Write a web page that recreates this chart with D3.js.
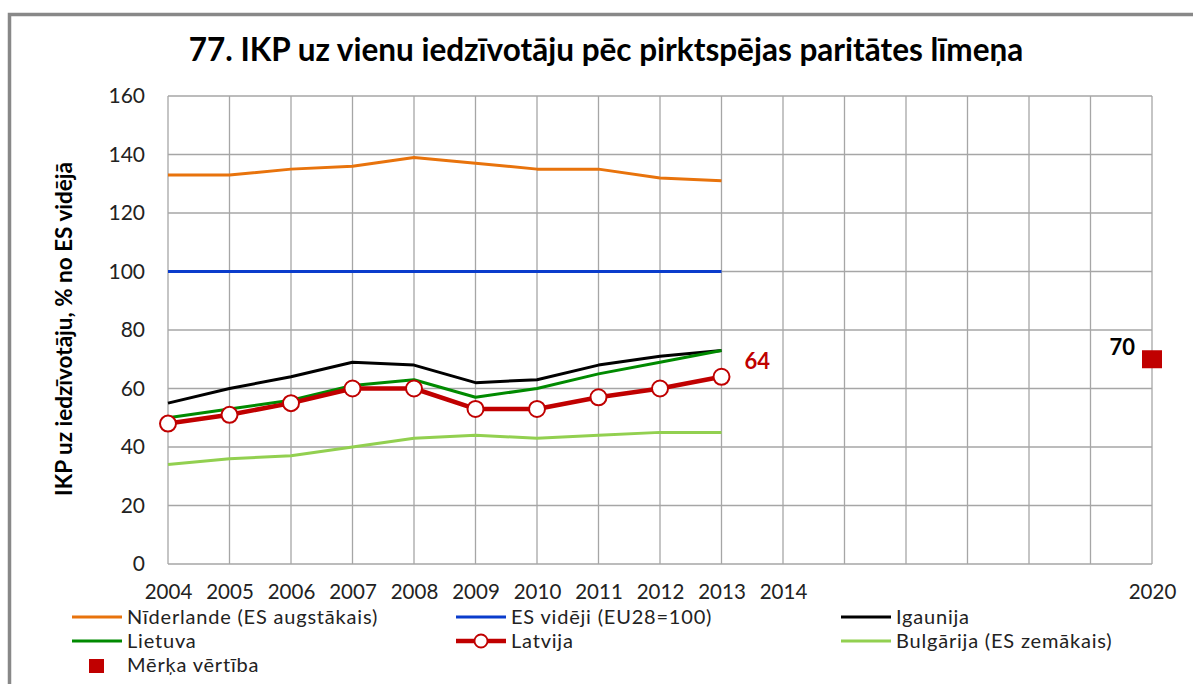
<!doctype html>
<html>
<head>
    <meta charset="utf-8">
    <title>IKP uz vienu iedzīvotāju</title>
    <script src="https://d3js.org/d3.v7.min.js"></script>
    <style>
        body { margin: 0; background: #fff; }
        svg { display: block; font-family: Lato, "Open Sans", sans-serif; }
    </style>
</head>
<body>
<svg width="1193" height="684"></svg>
<script>
    // data
    let years = [2004, 2005, 2006, 2007, 2008, 2009, 2010, 2011, 2012, 2013];
    let gridYears = d3.range(2004, 2021);
    let tickYears = [2004, 2005, 2006, 2007, 2008, 2009, 2010, 2011, 2012, 2013, 2014, 2020];
    let yTicks = [0, 20, 40, 60, 80, 100, 120, 140, 160];

    let niderlande = [133, 133, 135, 136, 139, 137, 135, 135, 132, 131];
    let esVideji   = [100, 100, 100, 100, 100, 100, 100, 100, 100, 100];
    let igaunija   = [55, 60, 64, 69, 68, 62, 63, 68, 71, 73];
    let lietuva    = [50, 53, 56, 61, 63, 57, 60, 65, 69, 73];
    let latvija    = [48, 51, 55, 60, 60, 53, 53, 57, 60, 64];
    let bulgarija  = [34, 36, 37, 40, 43, 44, 43, 44, 45, 45];
    let targetYear = 2020;
    let targetValue = 70;

    let series = [
        { name: "Nīderlande (ES augstākais)", values: niderlande, color: "#e8730c", width: 3 },
        { name: "ES vidēji (EU28=100)", values: esVideji, color: "#0a3ccc", width: 3 },
        { name: "Igaunija", values: igaunija, color: "#000000", width: 3 },
        { name: "Lietuva", values: lietuva, color: "#008a00", width: 3 },
        { name: "Latvija", values: latvija, color: "#c00000", width: 4.5, marker: true },
        { name: "Bulgārija (ES zemākais)", values: bulgarija, color: "#92d050", width: 3 }
    ];

    let svg = d3.select("svg");

    // outer frame
    svg.append("rect")
        .attr("x", 9.5).attr("y", 14.5)
        .attr("width", 1200).attr("height", 700)
        .attr("fill", "none")
        .attr("stroke", "#888")
        .attr("stroke-width", 3.5);

    let x = d3.scaleLinear().domain([2004, 2020]).range([168, 1152]);
    let y = d3.scaleLinear().domain([0, 160]).range([564, 96]);

    // grid
    let grid = svg.append("g").attr("stroke", "#a6a6a6").attr("stroke-width", 1.3);
    grid.selectAll("line.v").data(gridYears).enter().append("line")
        .attr("x1", d => x(d)).attr("x2", d => x(d))
        .attr("y1", y(0)).attr("y2", y(160));
    grid.selectAll("line.h").data(yTicks).enter().append("line")
        .attr("x1", x(2004)).attr("x2", x(2020))
        .attr("y1", d => y(d)).attr("y2", d => y(d));

    // axes labels
    let yAxis = d3.axisLeft(y).tickValues(yTicks).tickSize(0).tickPadding(23);
    svg.append("g").attr("transform", "translate(" + x(2004) + ",0)").call(yAxis)
        .call(g => g.select(".domain").remove())
        .selectAll("text").attr("font-size", 21).attr("fill", "#222")
        .attr("font-family", "Lato");

    let xAxis = d3.axisBottom(x).tickValues(tickYears).tickFormat(d3.format("d")).tickSize(0).tickPadding(20);
    svg.append("g").attr("transform", "translate(0," + y(0) + ")").call(xAxis)
        .call(g => g.select(".domain").remove())
        .selectAll("text").attr("font-size", 20.5).attr("fill", "#222")
        .attr("font-family", "Lato");

    // title
    svg.append("text")
        .attr("x", 606).attr("y", 61)
        .attr("text-anchor", "middle")
        .attr("font-size", 31.5).attr("font-weight", "bold")
        .text("77. IKP uz vienu iedzīvotāju pēc pirktspējas paritātes līmeņa");

    svg.append("text")
        .attr("transform", "translate(72,329) rotate(-90)")
        .attr("text-anchor", "middle")
        .attr("font-size", 22.5).attr("font-weight", "bold")
        .text("IKP uz iedzīvotāju, % no ES vidējā");

    // lines
    let line = d3.line().x((d, i) => x(years[i])).y(d => y(d));
    svg.selectAll("path.series").data(series).enter().append("path")
        .attr("class", "series")
        .attr("d", d => line(d.values))
        .attr("fill", "none")
        .attr("stroke", d => d.color)
        .attr("stroke-width", d => d.width)
        .attr("stroke-linejoin", "round");

    svg.selectAll("circle.lv").data(latvija).enter().append("circle")
        .attr("cx", (d, i) => x(years[i])).attr("cy", d => y(d))
        .attr("r", 8)
        .attr("fill", "#fff").attr("stroke", "#c00000").attr("stroke-width", 2);

    // labels
    svg.append("text")
        .attr("x", x(2013) + 23).attr("y", y(latvija[latvija.length - 1]) - 8)
        .attr("font-size", 22).attr("font-weight", "bold").attr("fill", "#c00000")
        .text(latvija[latvija.length - 1]);

    svg.append("rect")
        .attr("x", x(targetYear) - 10).attr("y", y(targetValue) - 9)
        .attr("width", 20).attr("height", 18)
        .attr("fill", "#c00000");
    svg.append("text")
        .attr("x", x(targetYear) - 17).attr("y", y(targetValue) - 4)
        .attr("text-anchor", "end")
        .attr("font-size", 22).attr("font-weight", "bold")
        .text(targetValue);

    // legend
    let legendPos = [[72, 617], [456, 617], [841, 617], [72, 641], [456, 641], [841, 641]];
    let lg = svg.append("g").attr("font-size", 20).attr("letter-spacing", 0.8);
    series.forEach(function(s, i) {
        let p = legendPos[i];
        lg.append("line")
            .attr("x1", p[0]).attr("x2", p[0] + 50)
            .attr("y1", p[1]).attr("y2", p[1])
            .attr("stroke", s.color).attr("stroke-width", s.width);
        if (s.marker) {
            lg.append("circle").attr("cx", p[0] + 25).attr("cy", p[1]).attr("r", 6.5)
                .attr("fill", "#fff").attr("stroke", s.color).attr("stroke-width", 1.8);
        }
        lg.append("text").attr("x", p[0] + 55).attr("y", p[1] + 7)
            .attr("fill", "#222").text(s.name);
    });
    lg.append("rect").attr("x", 89).attr("y", 659).attr("width", 15).attr("height", 14).attr("fill", "#c00000");
    lg.append("text").attr("x", 127).attr("y", 672).attr("fill", "#222").text("Mērķa vērtība");
</script>
</body>
</html>
